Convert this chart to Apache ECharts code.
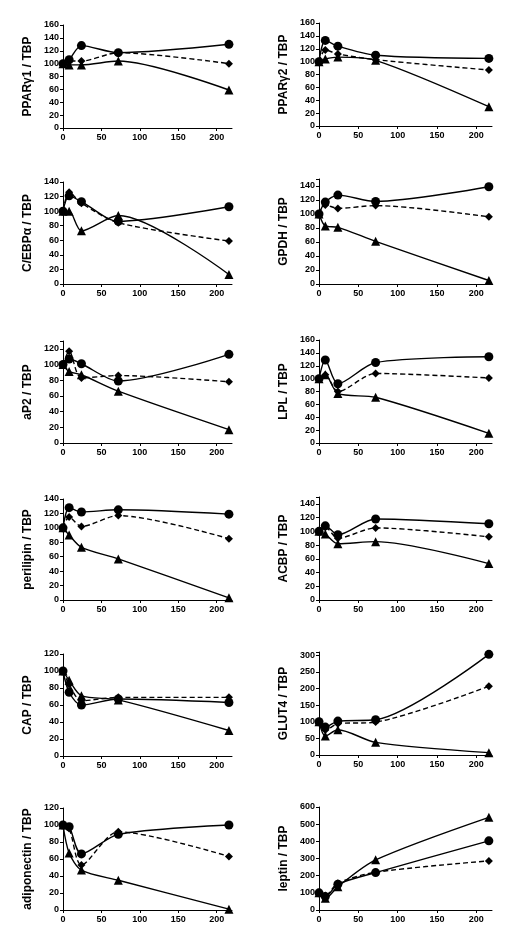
<!DOCTYPE html>
<html>
<head>
<meta charset="utf-8">
<script src="https://cdn.jsdelivr.net/npm/echarts@6/dist/echarts.min.js"></script>
<style>
html,body{margin:0;padding:0;background:#fff;}
#c{width:518px;height:935px;}
</style>
</head>
<body>
<div id="c"></div>
<script>
// ---- data ----
const times = [0, 8, 24, 72, 216];
const xTickLabels = [0, 50, 100, 150, 200];

const pparg1Circle   = [100, 106, 128, 117, 130];
const pparg1Diamond  = [100, 104, 104, 117, 100];
const pparg1Triangle = [100, 98, 98, 104, 59];

const pparg2Circle   = [100, 133, 124, 110, 105];
const pparg2Diamond  = [100, 118, 112, 103, 87];
const pparg2Triangle = [100, 104, 107, 102, 30];

const cebpaCircle   = [100, 121, 113, 86, 106];
const cebpaDiamond  = [100, 126, 111, 84, 59];
const cebpaTriangle = [100, 100, 73, 94, 13];

const gpdhCircle   = [100, 117, 127, 118, 139];
const gpdhDiamond  = [100, 113, 108, 112, 96];
const gpdhTriangle = [100, 83, 81, 61, 5];

const ap2Circle   = [100, 107, 101, 79, 113];
const ap2Diamond  = [100, 117, 83, 86, 78];
const ap2Triangle = [100, 91, 87, 66, 17];

const lplCircle   = [100, 129, 92, 125, 134];
const lplDiamond  = [100, 106, 80, 108, 101];
const lplTriangle = [100, 106, 77, 71, 15];

const perilipinCircle   = [100, 128, 122, 125, 119];
const perilipinDiamond  = [100, 115, 102, 117, 85];
const perilipinTriangle = [100, 90, 73, 57, 3];

const acbpCircle   = [100, 108, 95, 118, 111];
const acbpDiamond  = [100, 106, 90, 105, 92];
const acbpTriangle = [100, 96, 82, 85, 53];

const capCircle   = [100, 75, 60, 67, 63];
const capDiamond  = [100, 84, 65, 69, 69];
const capTriangle = [100, 89, 71, 66, 30];

const glut4Circle   = [100, 84, 102, 106, 303];
const glut4Diamond  = [100, 75, 94, 99, 207];
const glut4Triangle = [100, 57, 76, 38, 7];

const adipoCircle   = [100, 98, 66, 89, 100];
const adipoDiamond  = [100, 96, 53, 92, 63];
const adipoTriangle = [100, 67, 47, 35, 1];

const leptinCircle   = [100, 78, 150, 218, 403];
const leptinDiamond  = [100, 84, 156, 220, 286];
const leptinTriangle = [100, 68, 136, 292, 540];

// ---- layout ----
const panels = [
  {name:'PPARγ1 / TBP', c:pparg1Circle, d:pparg1Diamond, t:pparg1Triangle, max:160, step:20, col:0, top:25, bottom:128},
  {name:'PPARγ2 / TBP', c:pparg2Circle, d:pparg2Diamond, t:pparg2Triangle, max:160, step:20, col:1, top:23, bottom:126},
  {name:'C/EBPα / TBP', c:cebpaCircle, d:cebpaDiamond, t:cebpaTriangle, max:140, step:20, col:0, top:182, bottom:284},
  {name:'GPDH / TBP', c:gpdhCircle, d:gpdhDiamond, t:gpdhTriangle, max:150, step:20, col:1, top:179, bottom:284},
  {name:'aP2 / TBP', c:ap2Circle, d:ap2Diamond, t:ap2Triangle, max:130, step:20, col:0, top:341, bottom:443},
  {name:'LPL / TBP', c:lplCircle, d:lplDiamond, t:lplTriangle, max:160, step:20, col:1, top:340, bottom:443},
  {name:'perilipin / TBP', c:perilipinCircle, d:perilipinDiamond, t:perilipinTriangle, max:140, step:20, col:0, top:499, bottom:600},
  {name:'ACBP / TBP', c:acbpCircle, d:acbpDiamond, t:acbpTriangle, max:150, step:20, col:1, top:497, bottom:600},
  {name:'CAP / TBP', c:capCircle, d:capDiamond, t:capTriangle, max:120, step:20, col:0, top:654, bottom:756},
  {name:'GLUT4 / TBP', c:glut4Circle, d:glut4Diamond, t:glut4Triangle, max:310, step:50, col:1, top:652, bottom:755},
  {name:'adiponectin / TBP', c:adipoCircle, d:adipoDiamond, t:adipoTriangle, max:120, step:20, col:0, top:808, bottom:910},
  {name:'leptin / TBP', c:leptinCircle, d:leptinDiamond, t:leptinTriangle, max:600, step:100, col:1, top:807, bottom:910}
];
const colLeft = [63, 319];
const colWidth = [169, 173];
const xMax = 220;

const font = 'Liberation Sans, Arial, sans-serif';
const grids = [], xAxes = [], yAxes = [], series = [];

panels.forEach((p, i) => {
  grids.push({left: colLeft[p.col], top: p.top, width: colWidth[p.col], height: p.bottom - p.top});
  xAxes.push({
    type:'value', gridIndex:i, min:0, max:xMax, interval:50,
    axisLine:{show:true, lineStyle:{color:'#000', width:1}},
    axisTick:{show:true, length:3, lineStyle:{color:'#000'}},
    splitLine:{show:false},
    axisLabel:{color:'#000', fontSize:9, fontWeight:'bold', fontFamily:font, margin:5,
      showMaxLabel:false,
      formatter: v => xTickLabels.indexOf(v) >= 0 ? String(v) : ''}
  });
  const tickTop = Math.floor(p.max / p.step) * p.step;
  yAxes.push({
    type:'value', gridIndex:i, min:0, max:p.max, interval:p.step,
    name:p.name, nameLocation:'middle', nameGap:29, nameRotate:90,
    nameTextStyle:{color:'#000', fontSize:12, fontWeight:'bold', fontFamily:font},
    axisLine:{show:true, lineStyle:{color:'#000', width:1}},
    axisTick:{show:true, length:3, lineStyle:{color:'#000'}},
    splitLine:{show:false},
    axisLabel:{color:'#000', fontSize:9, fontWeight:'bold', fontFamily:font, margin:4,
      formatter: v => (v <= tickTop && v % p.step === 0) ? String(v) : ''}
  });
  const mk = (vals, symbol, size, dashed, z) => ({
    type:'line', xAxisIndex:i, yAxisIndex:i, smooth:0.28,
    data: times.map((t, k) => [t, vals[k]]),
    symbol, symbolSize:size, showSymbol:true,
    lineStyle:{color:'#000', width:1.4, type: dashed ? [5,3] : 'solid'},
    itemStyle:{color:'#000'}, z, silent:true
  });
  series.push(mk(p.t, 'triangle', 9, false, 2));
  series.push(mk(p.d, 'diamond', 8, true, 3));
  series.push(mk(p.c, 'circle', 9, false, 4));
});

const chart = echarts.init(document.getElementById('c'), null, {renderer:'canvas'});
chart.setOption({animation:false, backgroundColor:'#fff', grid:grids, xAxis:xAxes, yAxis:yAxes, series});
</script>
</body>
</html>
